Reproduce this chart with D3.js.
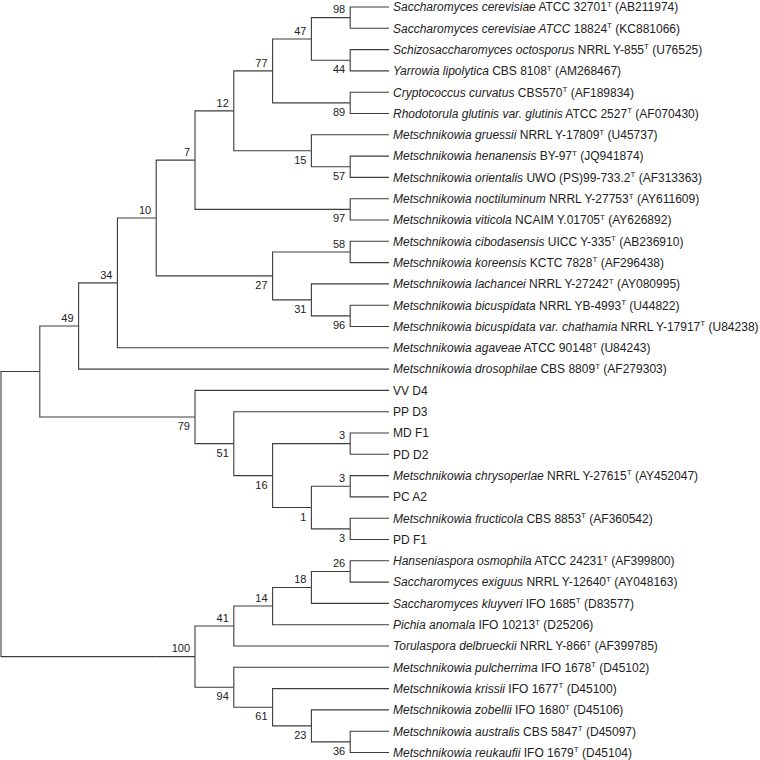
<!DOCTYPE html>
<html>
<head>
<meta charset="utf-8">
<script src="https://cdn.jsdelivr.net/npm/d3@7"></script>
<style>
  html, body { margin: 0; padding: 0; background: #fff; }
  svg { display: block; }
  text { font-family: "Liberation Sans", Arial, Helvetica, sans-serif; fill: #222; }
</style>
</head>
<body>
<svg id="chart" width="760" height="760"></svg>
<script>
// Tree topology (Newick), leaves L1..L36 in display order, internal labels = bootstrap support
const treeNewick =
  "((((((((((L1,L2)98,(L3,L4)44)47,(L5,L6)89)77,(L7,(L8,L9)57)15)12,(L10,L11)97)7," +
  "((L12,L13)58,(L14,(L15,L16)96)31)27)10,L17)34,L18)49," +
  "(L19,(L20,((L21,L22)3,((L23,L24)3,(L25,L26)3)1)16)51)79)," +
  "((((((L27,L28)26,L29)18,L30)14,L31)41,(L32,(L33,(L34,(L35,L36)36)23)61)94)100);";

// Leaf label parts
const leafSpecies = [
  "Saccharomyces cerevisiae", "Saccharomyces cerevisiae ATCC", "Schizosaccharomyces octosporus",
  "Yarrowia lipolytica", "Cryptococcus curvatus", "Rhodotorula glutinis var. glutinis",
  "Metschnikowia gruessii", "Metschnikowia henanensis", "Metschnikowia orientalis",
  "Metschnikowia noctiluminum", "Metschnikowia viticola", "Metschnikowia cibodasensis",
  "Metschnikowia koreensis", "Metschnikowia lachancei", "Metschnikowia bicuspidata",
  "Metschnikowia bicuspidata var. chathamia", "Metschnikowia agaveae", "Metschnikowia drosophilae",
  "", "", "", "",
  "Metschnikowia chrysoperlae", "", "Metschnikowia fructicola", "",
  "Hanseniaspora osmophila", "Saccharomyces exiguus", "Saccharomyces kluyveri",
  "Pichia anomala", "Torulaspora delbrueckii", "Metschnikowia pulcherrima",
  "Metschnikowia krissii", "Metschnikowia zobellii", "Metschnikowia australis",
  "Metschnikowia reukaufii"
];
const leafStrain = [
  "ATCC 32701", "18824", "NRRL Y-855", "CBS 8108", "CBS570", "ATCC 2527",
  "NRRL Y-17809", "BY-97", "UWO (PS)99-733.2", "NRRL Y-27753", "NCAIM Y.01705", "UICC Y-335",
  "KCTC 7828", "NRRL Y-27242", "NRRL YB-4993", "NRRL Y-17917", "ATCC 90148", "CBS 8809",
  "VV D4", "PP D3", "MD F1", "PD D2",
  "NRRL Y-27615", "PC A2", "CBS 8853", "PD F1",
  "ATCC 24231", "NRRL Y-12640", "IFO 1685", "IFO 10213", "NRRL Y-866", "IFO 1678",
  "IFO 1677", "IFO 1680", "CBS 5847", "IFO 1679"
];
const leafAccession = [
  "AB211974", "KC881066", "U76525", "AM268467", "AF189834", "AF070430",
  "U45737", "JQ941874", "AF313363", "AY611609", "AY626892", "AB236910",
  "AF296438", "AY080995", "U44822", "U84238", "U84243", "AF279303",
  "", "", "", "",
  "AY452047", "", "AF360542", "",
  "AF399800", "AY048163", "D83577", "D25206", "AF399785", "D45102",
  "D45100", "D45106", "D45097", "D45104"
];

// --- minimal Newick parser ---
function parseNewick(s) {
  let i = 0;
  function node() {
    const n = {};
    if (s[i] === "(") {
      i++;
      n.children = [node()];
      while (s[i] === ",") { i++; n.children.push(node()); }
      i++; // ')'
    }
    let name = "";
    while (i < s.length && !",();".includes(s[i])) name += s[i++];
    n.name = name;
    return n;
  }
  return node();
}

const root = d3.hierarchy(parseNewick(treeNewick));
const leaves = root.leaves();
const maxH = root.height;

const svg = d3.select("#chart");
const x = d3.scaleLinear().domain([0, maxH]).range([1, 389]);
const y = d3.scaleLinear().domain([0, leaves.length - 1]).range([7, 752.5]);

leaves.forEach((l, k) => { l.idx = +l.data.name.slice(1) - 1; l.py = y(k); });
root.eachAfter(n => {
  n.px = x(maxH - n.height);
  if (n.children) n.py = d3.mean(n.children, c => c.py);
});

// branches
svg.append("g")
  .attr("fill", "none")
  .attr("stroke", "#3c3c3c")
  .attr("stroke-width", 1.1)
  .selectAll("path")
  .data(root.descendants().filter(d => d.parent))
  .join("path")
  .attr("d", d => `M${d.parent.px},${d.parent.py}V${d.py}H${d.px}`);

// bootstrap labels
svg.append("g")
  .selectAll("text")
  .data(root.descendants().filter(d => d.children && d.data.name))
  .join("text")
  .attr("font-size", 11)
  .attr("text-anchor", "end")
  .attr("x", d => d.px - 5)
  .attr("y", d => {
    const top = d.parent && d.parent.children[0] === d;
    return top ? d.py - 4.2 : d.py + 13;
  })
  .text(d => d.data.name);

// leaf labels
const lab = svg.append("g")
  .selectAll("text")
  .data(leaves)
  .join("text")
  .attr("font-size", 12)
  .attr("x", 393)
  .attr("y", d => d.py + 4.3);

lab.each(function(d) {
  const t = d3.select(this);
  const i = d.idx;
  if (leafSpecies[i]) {
    t.append("tspan").attr("font-style", "italic").text(leafSpecies[i]);
    t.append("tspan").text(" " + leafStrain[i]);
  } else {
    t.append("tspan").text(leafStrain[i]);
  }
  if (leafAccession[i]) {
    t.append("tspan").attr("font-size", 8).attr("dy", -4.5).text("T");
    t.append("tspan").attr("dy", 4.5).text(" (" + leafAccession[i] + ")");
  }
});
</script>
</body>
</html>
